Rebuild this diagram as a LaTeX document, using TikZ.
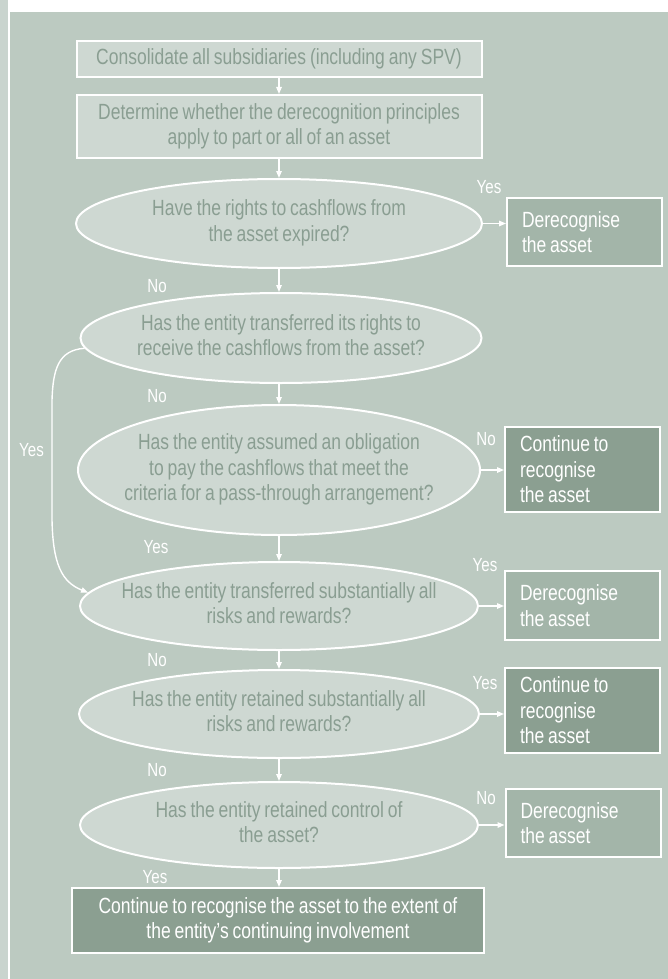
\documentclass[tikz,border=0pt]{standalone}
\usepackage{fontspec}
\setmainfont{Liberation Sans}[FakeStretch=0.795,WordSpace=0.8]
\usetikzlibrary{shapes.geometric,arrows.meta}
\definecolor{panel}{HTML}{BCCAC1}
\definecolor{strip}{HTML}{C9D4CE}
\definecolor{efill}{HTML}{CED8D2}
\definecolor{qtext}{HTML}{8A9E92}
\definecolor{dfill}{HTML}{A3B5A9}
\definecolor{cfill}{HTML}{8B9F91}
\newcommand{\ztxt}[1]{\makebox[0pt][c]{\begin{tabular}{@{}c@{}}#1\end{tabular}}}
\begin{document}
\begin{tikzpicture}[x=1pt,y=-1pt,
  txt/.style={font=\fontsize{22}{25.5}\selectfont},
  qbox/.style={draw=white, line width=2pt, fill=efill, text=qtext, align=flush center, txt, inner sep=0pt, minimum width=405pt},
  qell/.style={ellipse, draw=white, line width=2pt, fill=efill, text=qtext, txt, inner sep=0pt},
  dbox/.style={draw=white, line width=2pt, fill=dfill, text=white, txt, text width=125pt, align=flush left, inner xsep=15pt, inner ysep=0pt, minimum width=155pt},
  cbox/.style={dbox, fill=cfill},
  lbl/.style={text=white, font=\fontsize{19}{21}\selectfont, inner sep=0pt},
  arr/.style={draw=white, line width=1.4pt, -{Triangle[length=7pt,width=5.5pt]}}
]
\useasboundingbox (0,0) rectangle (668,979);
\fill[white] (0,0) rectangle (668,979);
\fill[strip] (0,0) rectangle (8,979);
\fill[panel] (9.5,12) rectangle (668,979);

% main column
\node[qbox, minimum height=36pt] (B1) at (279,59) {Consolidate all subsidiaries (including any SPV)};
\node[qbox, minimum height=63pt] (B2) at (279,126.5) {Determine whether the derecognition principles\\apply to part or all of an asset};
\node[qell, minimum width=406pt, minimum height=89pt] (E1) at (279,223.5) {\ztxt{Have the rights to cashflows from\\the asset expired?}};
\node[qell, minimum width=401pt, minimum height=90pt] (E2) at (281,338) {\ztxt{Has the entity transferred its rights to\\receive the cashflows from the asset?}};
\node[qell, minimum width=402pt, minimum height=130pt] (E3) at (279,470) {\ztxt{Has the entity assumed an obligation\\to pay the cashflows that meet the\\criteria for a pass-through arrangement?}};
\node[qell, minimum width=398pt, minimum height=88pt] (E4) at (279,606) {\ztxt{Has the entity transferred substantially all\\risks and rewards?}};
\node[qell, minimum width=400pt, minimum height=88pt] (E5) at (279,714) {\ztxt{Has the entity retained substantially all\\risks and rewards?}};
\node[qell, minimum width=398pt, minimum height=86pt] (E6) at (279,825) {\ztxt{Has the entity retained control of\\the asset?}};
\node[qbox, fill=cfill, text=white, minimum width=412pt, minimum height=65pt] (F) at (278,920.5) {Continue to recognise the asset to the extent of\\the entity's continuing involvement};

% outcome boxes
\node[dbox, minimum height=68pt] (D1) at (584.5,232) {Derecognise\\the asset};
\node[cbox, minimum height=85pt] (C1) at (582.5,469.5) {Continue to\\recognise\\the asset};
\node[dbox, minimum height=69pt] (D2) at (582.5,605.5) {Derecognise\\the asset};
\node[cbox, minimum height=85pt] (C2) at (582.5,710.5) {Continue to\\recognise\\the asset};
\node[dbox, minimum height=68pt] (D3) at (583,823) {Derecognise\\the asset};

% vertical connectors
\draw[arr] (B1.south) -- (B1.south |- B2.north);
\draw[arr] (B2.south) -- (B2.south |- E1.north);
\draw[arr] (E1.south) -- (E1.south |- E2.north);
\draw[arr] (E2.south -| E1.south) -- (E1.south |- E3.north);
\draw[arr] (E3.south) -- (E3.south |- E4.north);
\draw[arr] (E4.south) -- (E4.south |- E5.north);
\draw[arr] (E5.south) -- (E5.south |- E6.north);
\draw[arr] (E6.south) -- (E6.south |- F.north);

% horizontal connectors
\draw[arr] (E1.east) -- (E1.east -| D1.west);
\draw[arr] (E3.east) -- (E3.east -| C1.west);
\draw[arr] (E4.east) -- (E4.east -| D2.west);
\draw[arr] (E5.east) -- (E5.east -| C2.west);
\draw[arr] (E6.east) -- (E6.east -| D3.west);

% bypass curve
\coordinate (ya) at (52,400);
\coordinate (yb) at (52,520);
\draw[arr] (E2.183) .. controls (58,350) and (53,370) .. (ya) -- (yb) .. controls (53,565) and (62,582) .. (E4.176);

% labels
\node[lbl] (l1) at (489,187) {Yes};
\node[lbl] (l2) at (157,286) {No};
\node[lbl] (l3) at (157,396) {No};
\node[lbl] (l4) at (486,439) {No};
\node[lbl] (l5) at (31.5,450) {Yes};
\node[lbl] (l6) at (156,547) {Yes};
\node[lbl] (l7) at (485,565) {Yes};
\node[lbl] (l8) at (157,660) {No};
\node[lbl] (l9) at (485,683) {Yes};
\node[lbl] (l10) at (157,770) {No};
\node[lbl] (l11) at (486,798) {No};
\node[lbl] (l12) at (155,877) {Yes};
\end{tikzpicture}
\end{document}
